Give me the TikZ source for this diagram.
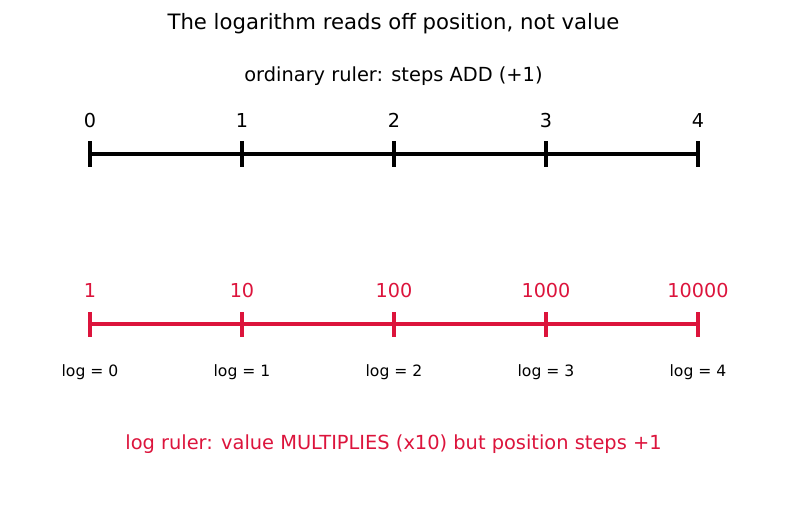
\documentclass[tikz,border=0pt]{standalone}
\usepackage{fontspec}
\setmainfont{DejaVu Sans}
\definecolor{crim}{HTML}{DC143C}
\begin{document}
\begin{tikzpicture}[x=1pt,y=-1pt,
  ttl/.style={font=\fontsize{21.2}{24}\selectfont},
  sub/.style={font=\fontsize{19.4}{22}\selectfont},
  lab/.style={font=\fontsize{19.2}{22}\selectfont,anchor=base},
  loglab/.style={font=\fontsize{15.6}{18}\selectfont,anchor=base},
  rul/.style={line width=4.2pt},
  tick/.style={line width=4.2pt}]
\useasboundingbox (0,0) rectangle (787,508);
\node[ttl] (title) at (393.5,24) {The logarithm reads off position, not value};
\node[sub] (sub1) at (393.5,76) {ordinary ruler: steps ADD (+1)};
\foreach \i/\t in {0/0,1/1,2/2,3/3,4/4}{
  \coordinate (a\i) at ({90+152*\i},154);
  \node[lab] (la\i) at ({90+152*\i},128) {\t};
}
\draw[rul] (a0) -- (a4);
\foreach \i in {0,...,4}{
  \draw[tick] ([yshift=-12.5pt]a\i) -- ([yshift=12.5pt]a\i);
}
\foreach \i/\t in {0/1,1/10,2/100,3/1000,4/10000}{
  \coordinate (b\i) at ({90+152*\i},324);
  \node[lab,text=crim] (lb\i) at ({90+152*\i},297) {\t};
  \node[loglab] (lg\i) at ({90+152*\i},376) {log = \i};
}
\draw[rul,crim] (b0) -- (b4);
\foreach \i in {0,...,4}{
  \draw[tick,crim] ([yshift=-12.5pt]b\i) -- ([yshift=12.5pt]b\i);
}
\node[sub,text=crim] (sub2) at (393.5,444) {log ruler: value MULTIPLIES (x10) but position steps +1};
\end{tikzpicture}
\end{document}
